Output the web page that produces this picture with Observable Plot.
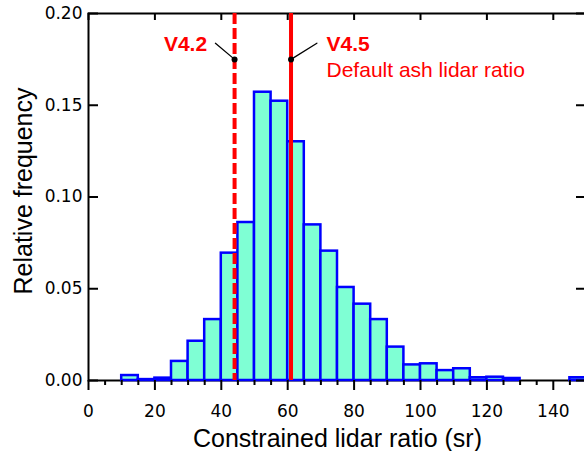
<!DOCTYPE html>
<html><head><meta charset="utf-8">
<script src="https://cdn.jsdelivr.net/npm/d3@7"></script>
<script src="https://cdn.jsdelivr.net/npm/@observablehq/plot@0.6"></script>
<style>
html,body{margin:0;padding:0;overflow:hidden;background:#fff;width:584px;height:451px}
#chart svg{max-width:none !important;display:block}
</style>
</head><body><div id="chart"></div><script>
// Histogram bins (left edges, sr) and relative frequencies
const binWidth = 5;
const binStarts = [0,5,10,15,20,25,30,35,40,45,50,55,60,65,70,75,80,85,90,95,100,105,110,115,120,125,130,135,140,145];
const relFreq = [0,0,0.0027,0.0005,0.0013,0.0104,0.0214,0.0332,0.0694,0.0861,0.1571,0.1522,0.1301,0.0848,0.0705,0.0507,0.0416,0.0332,0.0182,0.0085,0.0091,0.0054,0.0064,0.0015,0.0018,0.0011,0,0,0,0.0015];
// Axis ticks
const xMajorTicks = [0,20,40,60,80,100,120,140];
const xMinorTicks = [5,10,15,25,30,35,45,50,55,65,70,75,85,90,95,105,110,115,125,130,135,145];
const yTicks = [0,0.05,0.10,0.15,0.20];
// Reference lidar ratios
const versionLabels = ["V4.2","V4.5"];
const versionRatios = [44,61];
const versionNote = "Default ash lidar ratio";
const markerLevel = 0.175;
const xTitle = "Constrained lidar ratio (sr)";
const yTitle = "Relative frequency";

const bins = binStarts.map((x0,i)=>({x1:x0, x2:x0+binWidth, y:relFreq[i]}));
const v42 = [{label:versionLabels[0], ratio:versionRatios[0], level:markerLevel}];
const v45 = [{label:versionLabels[1], ratio:versionRatios[1], level:markerLevel, note:versionNote}];

const W=592, H=451, mL=88, mR=6, mT=13, mB=71;
const innerW=W-mL-mR, innerH=H-mT-mB;
const RED="#ff0000";
const SANS="'Liberation Sans', Arial, Helvetica, sans-serif";
const line = {draw(ctx,l){ctx.moveTo(0,0);ctx.lineTo(0,-l);}};

const chart = Plot.plot({
  width:W, height:H, marginLeft:mL, marginRight:mR, marginTop:mT, marginBottom:mB,
  style:{fontFamily:"'DejaVu Sans', sans-serif", fontSize:"17px", background:"white", color:"black", maxWidth:"none"},
  x:{domain:[0,150], label:null},
  y:{domain:[0,0.2], label:null},
  marks:[
    Plot.frame({stroke:"black", strokeWidth:2}),
    Plot.rectY(bins,{x1:"x1", x2:"x2", y:"y", fill:"#7fffd4", stroke:"#0000ff", strokeWidth:2.5}),
    Plot.ruleX(v42,{x:"ratio", stroke:RED, strokeWidth:4, strokeDasharray:"11,4"}),
    Plot.ruleX(v45,{x:"ratio", stroke:RED, strokeWidth:4}),
    // ticks
    Plot.tickX(xMinorTicks,{x:d=>d, insetTop:innerH, insetBottom:-5, stroke:"black", strokeWidth:2}),
    Plot.tickX(xMajorTicks,{x:d=>d, insetBottom:innerH-7, stroke:"black", strokeWidth:2}),
    Plot.tickY(yTicks,{y:d=>d, insetRight:innerW-10, stroke:"black", strokeWidth:2}),
    Plot.tickY(yTicks,{y:d=>d, insetLeft:innerW-10, stroke:"black", strokeWidth:2}),
    Plot.axisX(xMajorTicks,{tickSize:10, tickPadding:14, strokeWidth:2, tickFormat:d=>String(d), label:null, fontSize:17}),
    Plot.axisY(yTicks,{tickSize:0, tickPadding:6, tickFormat:d3.format(".2f"), label:null, fontSize:17}),
    // annotations
    Plot.dot([...v42,...v45],{x:"ratio", y:"level", r:3, fill:"black", stroke:null}),
    Plot.vector(v42,{x:"ratio", y:"level", length:25, rotate:-50, anchor:"start", shape:line, stroke:"black", strokeWidth:1.3}),
    Plot.vector(v45,{x:"ratio", y:"level", length:30.5, rotate:58, anchor:"start", shape:line, stroke:"black", strokeWidth:1.3}),
    Plot.text(v42,{x:"ratio", y:"level", text:"label", textAnchor:"end", dx:-27.5, dy:-15.5, fill:RED, fontWeight:"bold", fontSize:21, fontFamily:SANS}),
    Plot.text(v45,{x:"ratio", y:"level", text:"label", textAnchor:"start", dx:35.5, dy:-15.5, fill:RED, fontWeight:"bold", fontSize:21, fontFamily:SANS}),
    Plot.text(v45,{x:"ratio", y:"level", text:"note", textAnchor:"start", dx:35.5, dy:10.5, fill:RED, fontSize:21, fontFamily:SANS}),
    // axis titles
    Plot.text([xTitle],{text:d=>d, frameAnchor:"bottom", textAnchor:"middle", lineAnchor:"middle", dy:58, fontSize:25, fontFamily:SANS, fill:"black"}),
    Plot.text([yTitle],{text:d=>d, frameAnchor:"left", textAnchor:"middle", lineAnchor:"middle", rotate:-90, dx:-65, dy:-6, fontSize:25, fontFamily:SANS, fill:"black"})
  ]
});
document.getElementById("chart").appendChild(chart);
</script></body></html>
